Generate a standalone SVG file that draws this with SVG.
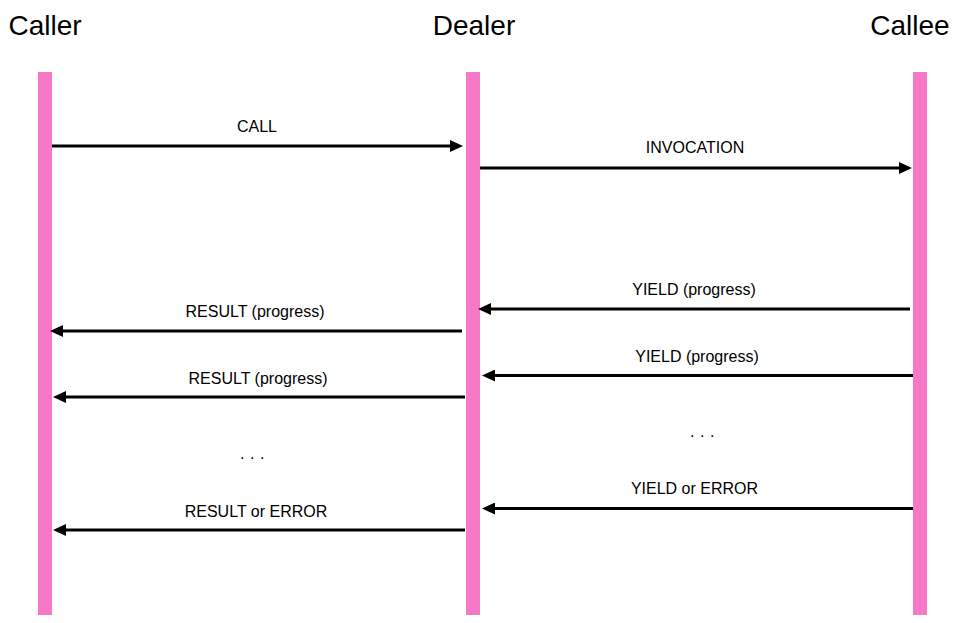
<svg xmlns="http://www.w3.org/2000/svg" width="965" height="623" viewBox="0 0 965 623">
<style>
.title{font-family:"Liberation Sans",Arial,sans-serif;font-size:28px;fill:#000;text-anchor:middle}
.lbl{font-family:"Liberation Sans",Arial,sans-serif;font-size:16px;fill:#000;text-anchor:middle}
.life{fill:#F878C8}
.msg{stroke:#000;stroke-width:3;fill:none;marker-end:url(#arr)}
</style>
<defs>
<marker id="arr" viewBox="0 0 13 12" refX="5" refY="6" markerWidth="13" markerHeight="12" markerUnits="userSpaceOnUse" orient="auto">
<path d="M0,0 L13,6 L0,12 z" fill="#000"/>
</marker>
</defs>
<rect width="965" height="623" fill="#fff"/>
<g id="caller">
<text class="title" x="45" y="35">Caller</text>
<rect class="life" x="38" y="72" width="14" height="543"/>
</g>
<g id="dealer">
<text class="title" x="474" y="35">Dealer</text>
<rect class="life" x="466" y="72" width="14" height="543"/>
</g>
<g id="callee">
<text class="title" x="910" y="35">Callee</text>
<rect class="life" x="913" y="72" width="14" height="543"/>
</g>
<g id="connectors">
<line class="msg" x1="52" y1="146" x2="455" y2="146"/>
<text class="lbl" x="257" y="132">CALL</text>
<line class="msg" x1="480" y1="168" x2="904" y2="168"/>
<text class="lbl" x="695" y="153">INVOCATION</text>
<line class="msg" x1="910" y1="309" x2="486" y2="309"/>
<text class="lbl" x="694" y="295">YIELD (progress)</text>
<line class="msg" x1="462" y1="331" x2="58" y2="331"/>
<text class="lbl" x="255" y="317">RESULT (progress)</text>
<line class="msg" x1="913" y1="375.5" x2="490" y2="375.5"/>
<text class="lbl" x="697" y="362">YIELD (progress)</text>
<line class="msg" x1="465" y1="397" x2="61" y2="397"/>
<text class="lbl" x="258" y="384">RESULT (progress)</text>
<text class="lbl" x="255" y="459" letter-spacing="5.5">...</text>
<text class="lbl" x="705" y="437" letter-spacing="5.5">...</text>
<line class="msg" x1="913" y1="508.5" x2="490" y2="508.5"/>
<text class="lbl" x="694.5" y="493.5">YIELD or ERROR</text>
<line class="msg" x1="465" y1="530" x2="61" y2="530"/>
<text class="lbl" x="256" y="516.5">RESULT or ERROR</text>
</g>
</svg>
